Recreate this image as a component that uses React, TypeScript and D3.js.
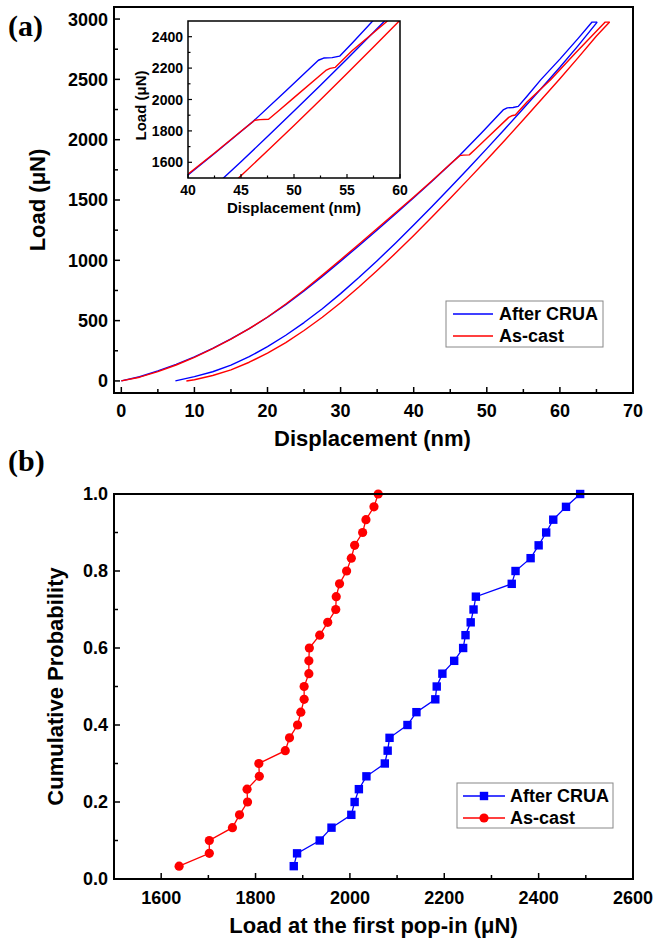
import React from "react";
import * as d3 from "d3";

const W = 658;
const H = 939;
const BLUE = "#0000ff";
const RED = "#ff0000";
const FONT = "'Liberation Sans', Arial, Helvetica, sans-serif";

// ---- Panel (a): load–displacement curves, [displacement nm, load µN] ----
const afterCruaFirst: [number, number][] = [
  [0, 0], [2.5, 35], [5, 83], [7.5, 138], [10, 200], [12.5, 270], [15, 348],
  [17.5, 433], [20, 528], [22.5, 633], [25, 746], [27.5, 867], [30, 993],
  [32.5, 1121], [35, 1251], [37.5, 1384], [40, 1519], [42.5, 1656], [45, 1796],
  [46.2, 1864], [49.2, 2052], [52.3, 2250], [52.8, 2264], [53.6, 2267],
  [54.3, 2276], [55.5, 2360], [57.4, 2498], [60, 2668], [62.5, 2840],
  [64.4, 2975], [65.1, 2975],
];
const afterCruaSecond: [number, number][] = [
  [7.4, 0], [10, 36], [12.5, 76], [15, 131], [17.5, 201], [20, 284],
  [22.5, 379], [25, 484], [27.5, 599], [30, 724], [32.5, 857], [35, 997],
  [37.5, 1142], [40, 1292], [42.5, 1447], [45, 1604], [47.5, 1764],
  [50, 1926], [52.5, 2091], [55, 2258], [57.5, 2428], [60, 2600],
  [62.5, 2780], [65.1, 2975],
];
const asCastFirst: [number, number][] = [
  [0, 0], [2.5, 31], [5, 77], [7.5, 132], [10, 195], [12.5, 267], [15, 347],
  [17.5, 433], [20, 530], [22.5, 638], [25, 754], [27.5, 877], [30, 1005],
  [32.5, 1133], [35, 1263], [37.5, 1394], [40, 1525], [42.5, 1659], [45, 1798],
  [46.3, 1868], [46.8, 1872], [47.6, 1874], [48.5, 1925], [50, 2012],
  [53, 2185], [53.4, 2198], [53.9, 2205], [55.5, 2312], [58.7, 2494],
  [62, 2710], [66.2, 2975], [66.8, 2975],
];
const asCastSecond: [number, number][] = [
  [8.9, 0], [10, 10], [12.5, 45], [15, 92], [17.5, 155], [20, 230],
  [22.5, 318], [25, 418], [27.5, 528], [30, 648], [32.5, 778], [35, 915],
  [37.5, 1058], [40, 1206], [42.5, 1360], [45, 1515], [47.5, 1673],
  [50, 1834], [52.5, 1998], [55, 2165], [57.5, 2335], [60, 2505],
  [62.5, 2680], [65, 2860], [66.8, 2975],
];

const dispTicks = [0, 10, 20, 30, 40, 50, 60, 70];
const dispMinor = [5, 15, 25, 35, 45, 55, 65];
const loadTicks = [0, 500, 1000, 1500, 2000, 2500, 3000];
const loadMinor = [250, 750, 1250, 1750, 2250, 2750];
const insetDispTicks = [40, 45, 50, 55, 60];
const insetDispMinor = [42.5, 47.5, 52.5, 57.5];
const insetLoadTicks = [1600, 1800, 2000, 2200, 2400];
const insetLoadMinor = [1700, 1900, 2100, 2300];

// ---- Panel (b): load at the first pop-in (µN), sorted ----
const afterCruaPopIn = [
  1881, 1888, 1936, 1961, 2003, 2010, 2019, 2035, 2074, 2080, 2084, 2122,
  2141, 2181, 2184, 2196, 2221, 2240, 2245, 2256, 2262, 2267, 2343, 2351,
  2383, 2400, 2416, 2431, 2458, 2488,
];
const asCastPopIn = [
  1638, 1702, 1702, 1751, 1766, 1783, 1782, 1808, 1807, 1863, 1872, 1889,
  1896, 1903, 1903, 1913, 1913, 1914, 1936, 1953, 1970, 1971, 1978, 1993,
  2003, 2010, 2027, 2034, 2051, 2060,
];
const popTicks = [1600, 1800, 2000, 2200, 2400, 2600];
const popMinor = [1700, 1900, 2100, 2300, 2500];
const probTicks = [0, 0.2, 0.4, 0.6, 0.8, 1.0];
const probMinor = [0.1, 0.3, 0.5, 0.7, 0.9];

const seriesA = [
  { name: "After CRUA", color: BLUE, curves: [afterCruaFirst, afterCruaSecond] },
  { name: "As-cast", color: RED, curves: [asCastFirst, asCastSecond] },
];

// cumulative probability of each sorted pop-in load
const cumulative = (vals: number[]) =>
  vals.map((v, i) => [v, (i + 1) / vals.length] as [number, number]);

const seriesB = [
  { name: "After CRUA", color: BLUE, shape: "square", pts: cumulative(afterCruaPopIn) },
  { name: "As-cast", color: RED, shape: "circle", pts: cumulative(asCastPopIn) },
];

function Marker({ shape, x, y, color }: { shape: string; x: number; y: number; color: string }) {
  if (shape === "square")
    return <rect x={x - 4.2} y={y - 4.2} width={8.4} height={8.4} fill={color} />;
  return <circle cx={x} cy={y} r={4.6} fill={color} />;
}

export default function App() {
  // Panel (a) scales
  const xA = d3.scaleLinear().domain([-1, 70]).range([114, 633]);
  const yA = d3.scaleLinear().domain([-100, 3100]).range([393, 7]);
  const lineA = d3.line<[number, number]>().x((d) => xA(d[0])).y((d) => yA(d[1]));

  // Inset scales
  const xI = d3.scaleLinear().domain([40, 60]).range([188, 400]);
  const yI = d3.scaleLinear().domain([1500, 2500]).range([178, 21]);
  const lineI = d3.line<[number, number]>().x((d) => xI(d[0])).y((d) => yI(d[1]));

  // Panel (b) scales
  const xB = d3.scaleLinear().domain([1500, 2600]).range([114, 633]);
  const yB = d3.scaleLinear().domain([0, 1]).range([879, 494]);
  const lineB = d3.line<[number, number]>().x((d) => xB(d[0])).y((d) => yB(d[1]));

  const tickFont = { fontFamily: FONT, fontWeight: 700, fontSize: 18 } as const;
  const titleFont = { fontFamily: FONT, fontWeight: 700, fontSize: 22 } as const;
  const insetTickFont = { fontFamily: FONT, fontWeight: 700, fontSize: 14 } as const;
  const insetTitleFont = { fontFamily: FONT, fontWeight: 700, fontSize: 15 } as const;

  const [a0, a1] = xA.range();
  const [ab, at] = yA.range();
  const [i0, i1] = xI.range();
  const [ib, it] = yI.range();
  const [b0, b1] = xB.range();
  const [bb, bt] = yB.range();

  return (
    <svg width={W} height={H} viewBox={`0 0 ${W} ${H}`} style={{ display: "block", position: "absolute", left: 0, top: 0, background: "#fff" }}>
      <rect width={W} height={H} fill="#fff" />
      <defs>
        <clipPath id="clipA"><rect x={a0} y={at} width={a1 - a0} height={ab - at} /></clipPath>
        <clipPath id="clipI"><rect x={i0} y={it} width={i1 - i0} height={ib - it} /></clipPath>
      </defs>

      {/* ---------- Panel (a) ---------- */}
      <text x={8} y={36} fontFamily="'Liberation Serif', 'Times New Roman', serif" fontWeight={700} fontSize={30}>(a)</text>
      <g clipPath="url(#clipA)">
        {seriesA.map((s) =>
          s.curves.map((c, k) => (
            <path key={s.name + k} d={lineA(c) || ""} fill="none" stroke={s.color} strokeWidth={1.4} strokeLinejoin="round" />
          ))
        )}
      </g>
      {/* axes ticks (inward) */}
      {dispTicks.map((t) => (
        <g key={"xa" + t}>
          <line x1={xA(t)} x2={xA(t)} y1={ab} y2={ab - 6} stroke="#000" strokeWidth={1.5} />
          <text x={xA(t)} y={417} textAnchor="middle" {...tickFont}>{t}</text>
        </g>
      ))}
      {dispMinor.map((t) => (
        <line key={"xam" + t} x1={xA(t)} x2={xA(t)} y1={ab} y2={ab - 4} stroke="#000" strokeWidth={1.5} />
      ))}
      {loadTicks.map((t) => (
        <g key={"ya" + t}>
          <line x1={a0} x2={a0 + 6} y1={yA(t)} y2={yA(t)} stroke="#000" strokeWidth={1.5} />
          <text x={108} y={yA(t)} dy="0.36em" textAnchor="end" {...tickFont}>{t}</text>
        </g>
      ))}
      {loadMinor.map((t) => (
        <line key={"yam" + t} x1={a0} x2={a0 + 4} y1={yA(t)} y2={yA(t)} stroke="#000" strokeWidth={1.5} />
      ))}
      <rect x={a0} y={at} width={a1 - a0} height={ab - at} fill="none" stroke="#000" strokeWidth={2} />
      <text x={(a0 + a1) / 2 - 1} y={446} textAnchor="middle" {...titleFont}>Displacement (nm)</text>
      <text transform={`translate(45, ${(at + ab) / 2}) rotate(-90)`} textAnchor="middle" {...titleFont}>Load (μN)</text>

      {/* inset */}
      <rect x={i0} y={it} width={i1 - i0} height={ib - it} fill="#fff" />
      <g clipPath="url(#clipI)">
        {seriesA.map((s) =>
          s.curves.map((c, k) => (
            <path key={"i" + s.name + k} d={lineI(c) || ""} fill="none" stroke={s.color} strokeWidth={1.4} strokeLinejoin="round" />
          ))
        )}
      </g>
      {insetDispTicks.map((t) => (
        <g key={"xi" + t}>
          <line x1={xI(t)} x2={xI(t)} y1={ib} y2={ib - 4} stroke="#000" strokeWidth={1.2} />
          <text x={xI(t)} y={195} textAnchor="middle" {...insetTickFont}>{t}</text>
        </g>
      ))}
      {insetDispMinor.map((t) => (
        <line key={"xim" + t} x1={xI(t)} x2={xI(t)} y1={ib} y2={ib - 2.5} stroke="#000" strokeWidth={1.2} />
      ))}
      {insetLoadTicks.map((t) => (
        <g key={"yi" + t}>
          <line x1={i0} x2={i0 + 4} y1={yI(t)} y2={yI(t)} stroke="#000" strokeWidth={1.2} />
          <text x={183} y={yI(t)} dy="0.36em" textAnchor="end" {...insetTickFont}>{t}</text>
        </g>
      ))}
      {insetLoadMinor.map((t) => (
        <line key={"yim" + t} x1={i0} x2={i0 + 2.5} y1={yI(t)} y2={yI(t)} stroke="#000" strokeWidth={1.2} />
      ))}
      <rect x={i0} y={it} width={i1 - i0} height={ib - it} fill="none" stroke="#000" strokeWidth={1.5} />
      <text x={(i0 + i1) / 2} y={213} textAnchor="middle" {...insetTitleFont}>Displacement (nm)</text>
      <text transform={`translate(146, ${(it + ib) / 2 + 6}) rotate(-90)`} textAnchor="middle" {...insetTitleFont}>Load (μN)</text>

      {/* legend (a) */}
      <rect x={446} y={301} width={157} height={46} fill="#fff" stroke="#888" strokeWidth={1} />
      {seriesA.map((s, k) => (
        <g key={"la" + s.name}>
          <line x1={453} x2={493} y1={314 + k * 22} y2={314 + k * 22} stroke={s.color} strokeWidth={1.4} />
          <text x={499} y={320 + k * 22} fontFamily={FONT} fontWeight={700} fontSize={18}>{s.name}</text>
        </g>
      ))}

      {/* ---------- Panel (b) ---------- */}
      <text x={8} y={471} fontFamily="'Liberation Serif', 'Times New Roman', serif" fontWeight={700} fontSize={30}>(b)</text>
      {seriesB.map((s) => (
        <g key={"b" + s.name}>
          <path d={lineB(s.pts) || ""} fill="none" stroke={s.color} strokeWidth={1.3} />
          {s.pts.map((p, i) => (
            <Marker key={i} shape={s.shape} x={xB(p[0])} y={yB(p[1])} color={s.color} />
          ))}
        </g>
      ))}
      {popTicks.map((t) => (
        <g key={"xb" + t}>
          <line x1={xB(t)} x2={xB(t)} y1={bb} y2={bb - 6} stroke="#000" strokeWidth={1.5} />
          <text x={xB(t)} y={904} textAnchor="middle" {...tickFont}>{t}</text>
        </g>
      ))}
      {popMinor.map((t) => (
        <line key={"xbm" + t} x1={xB(t)} x2={xB(t)} y1={bb} y2={bb - 4} stroke="#000" strokeWidth={1.5} />
      ))}
      {probTicks.map((t) => (
        <g key={"yb" + t}>
          <line x1={b0} x2={b0 + 6} y1={yB(t)} y2={yB(t)} stroke="#000" strokeWidth={1.5} />
          <text x={108} y={yB(t)} dy="0.36em" textAnchor="end" {...tickFont}>{t.toFixed(1)}</text>
        </g>
      ))}
      {probMinor.map((t) => (
        <line key={"ybm" + t} x1={b0} x2={b0 + 4} y1={yB(t)} y2={yB(t)} stroke="#000" strokeWidth={1.5} />
      ))}
      <rect x={b0} y={bt} width={b1 - b0} height={bb - bt} fill="none" stroke="#000" strokeWidth={2} />
      <text x={(b0 + b1) / 2} y={933} textAnchor="middle" {...titleFont}>Load at the first pop-in (μN)</text>
      <text transform={`translate(63, ${(bt + bb) / 2}) rotate(-90)`} textAnchor="middle" {...titleFont}>Cumulative Probability</text>

      {/* legend (b) */}
      <rect x={457} y={783} width={156} height={45} fill="#fff" stroke="#888" strokeWidth={1} />
      {seriesB.map((s, k) => (
        <g key={"lb" + s.name}>
          <line x1={463} x2={505} y1={796 + k * 22} y2={796 + k * 22} stroke={s.color} strokeWidth={1.3} />
          <Marker shape={s.shape} x={484} y={796 + k * 22} color={s.color} />
          <text x={510} y={802 + k * 22} fontFamily={FONT} fontWeight={700} fontSize={18}>{s.name}</text>
        </g>
      ))}
    </svg>
  );
}
